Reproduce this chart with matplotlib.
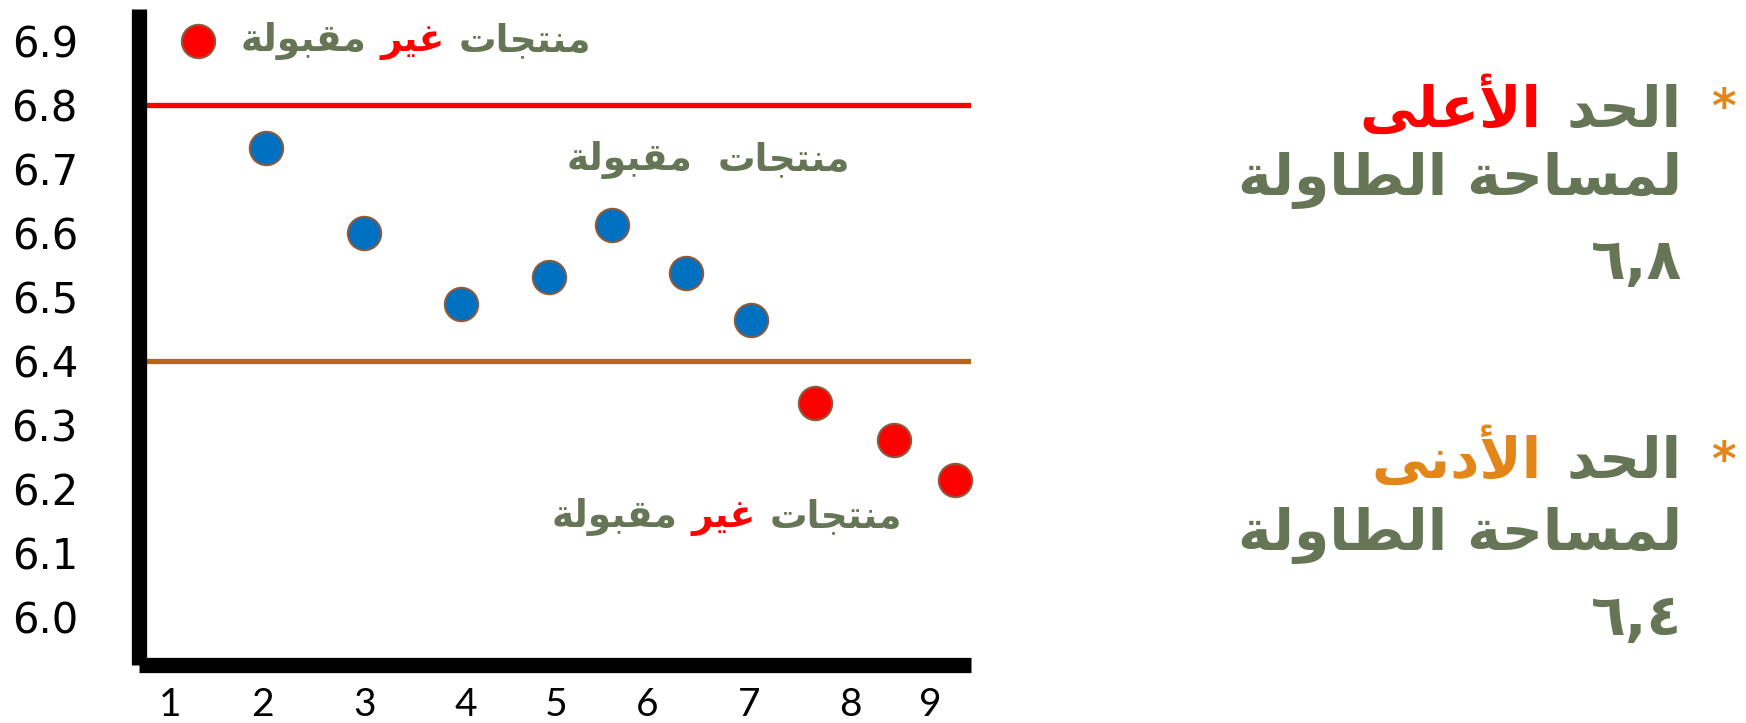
import matplotlib
matplotlib.use('Agg')
import matplotlib.pyplot as plt
from matplotlib.offsetbox import TextArea, HPacker, AnnotationBbox

# measured table areas (sample number -> area)
sample_x = [2.01, 3.04, 4.06, 4.99, 5.65, 6.43, 7.11, 7.79, 8.62, 9.26]
sample_y = [6.733, 6.60, 6.489, 6.531, 6.612, 6.538, 6.464, 6.335, 6.277, 6.214]
upper_limit = 6.8
lower_limit = 6.4

x_tick_pos = [1, 1.97, 3.04, 4.11, 5.06, 6.02, 7.09, 8.16, 9.0]
x_tick_labels = ['1', '2', '3', '4', '5', '6', '7', '8', '9']
y_ticks = [6.0, 6.1, 6.2, 6.3, 6.4, 6.5, 6.6, 6.7, 6.8, 6.9]

GREEN = '#667555'
RED = '#FF0000'
ORANGE = '#E3861A'
BLUE = '#0070C0'

# matplotlib has no arabic shaping, so do it by hand with presentation forms
FORMS = {
    'ا': ('\uFE8D', '\uFE8E', None, None),
    'أ': ('\uFE83', '\uFE84', None, None),
    'ب': ('\uFE8F', '\uFE90', '\uFE91', '\uFE92'),
    'ة': ('\uFE93', '\uFE94', None, None),
    'ت': ('\uFE95', '\uFE96', '\uFE97', '\uFE98'),
    'ج': ('\uFE9D', '\uFE9E', '\uFE9F', '\uFEA0'),
    'ح': ('\uFEA1', '\uFEA2', '\uFEA3', '\uFEA4'),
    'د': ('\uFEA9', '\uFEAA', None, None),
    'ر': ('\uFEAD', '\uFEAE', None, None),
    'س': ('\uFEB1', '\uFEB2', '\uFEB3', '\uFEB4'),
    'ط': ('\uFEC1', '\uFEC2', '\uFEC3', '\uFEC4'),
    'ع': ('\uFEC9', '\uFECA', '\uFECB', '\uFECC'),
    'غ': ('\uFECD', '\uFECE', '\uFECF', '\uFED0'),
    'ق': ('\uFED5', '\uFED6', '\uFED7', '\uFED8'),
    'ل': ('\uFEDD', '\uFEDE', '\uFEDF', '\uFEE0'),
    'م': ('\uFEE1', '\uFEE2', '\uFEE3', '\uFEE4'),
    'ن': ('\uFEE5', '\uFEE6', '\uFEE7', '\uFEE8'),
    'و': ('\uFEED', '\uFEEE', None, None),
    'ى': ('\uFEEF', '\uFEF0', None, None),
    'ي': ('\uFEF1', '\uFEF2', '\uFEF3', '\uFEF4'),
}
LAM_ALEF = {'ا': ('\uFEFB', '\uFEFC'), 'أ': ('\uFEF7', '\uFEF8')}


def shape(s):
    out = []
    prev_join = False
    i = 0
    while i < len(s):
        c = s[i]
        if c not in FORMS:
            out.append(c)
            prev_join = False
            i += 1
            continue
        if c == 'ل' and i + 1 < len(s) and s[i + 1] in LAM_ALEF:
            iso, fin = LAM_ALEF[s[i + 1]]
            out.append(fin if prev_join else iso)
            prev_join = False
            i += 2
            continue
        nxt = s[i + 1] if i + 1 < len(s) else None
        iso, fin, ini, med = FORMS[c]
        next_join = ini is not None and nxt in FORMS
        if prev_join and next_join:
            g = med
        elif prev_join:
            g = fin
        elif next_join:
            g = ini
        else:
            g = iso
        out.append(g)
        prev_join = next_join
        i += 1
    return ''.join(out)[::-1]


def rtl_line(ax, parts, xy, coords, size, align=(1, 0.5), sep=10):
    # parts are given in reading order (right to left)
    boxes = []
    for txt, col in parts[::-1]:
        boxes.append(TextArea(shape(txt), textprops=dict(color=col, fontsize=size,
                                                         fontweight='bold', family='DejaVu Sans')))
    pack = HPacker(children=boxes, align='baseline', pad=0, sep=sep)
    ab = AnnotationBbox(pack, xy, xycoords=coords, box_alignment=align,
                        frameon=False, pad=0, annotation_clip=False)
    ax.add_artist(ab)


fig = plt.figure(figsize=(17.46, 7.23), dpi=100)
ax = fig.add_axes([139 / 1746, 1 - 665 / 723, 832 / 1746, 656 / 723])

ax.axhline(upper_limit, color=RED, lw=3.8, zorder=2)
ax.axhline(lower_limit, color='#B5651D', lw=3.8, zorder=2)

for x, y in zip(sample_x, sample_y):
    c = BLUE if lower_limit <= y <= upper_limit else RED
    ax.plot(x, y, 'o', ms=24, mfc=c, mec='#8C5A3C', mew=1.5, zorder=3, clip_on=False)

ax.set_xlim(0.67, 9.43)
ax.set_ylim(5.925, 6.95)
ax.set_xticks(x_tick_pos)
ax.set_xticklabels(x_tick_labels, fontsize=28, family='Lato')
ax.set_yticks(y_ticks)
ax.set_yticklabels(['%.1f' % v for v in y_ticks], fontsize=30, family='DejaVu Sans')
ax.tick_params(axis='both', length=0)
ax.tick_params(axis='y', pad=44)
ax.tick_params(axis='x', pad=16)

for side in ['top', 'right']:
    ax.spines[side].set_visible(False)
for side in ['left', 'bottom']:
    ax.spines[side].set_linewidth(11)
    ax.spines[side].set_color('black')
    ax.spines[side].set_capstyle('butt')

# legend-ish marker and texts inside the plot
ax.plot(0.071, 0.951, 'o', ms=24, mfc=RED, mec='#8C5A3C', mew=1.5,
        transform=ax.transAxes, clip_on=False)
rtl_line(ax, [('منتجات', GREEN), ('غير', RED), ('مقبولة', GREEN)],
         (0.1226, 0.951), 'axes fraction', 27, align=(0, 0.5))
rtl_line(ax, [('منتجات', GREEN), ('مقبولة', GREEN)],
         (0.684, 0.770), 'axes fraction', 27, align=(0.5, 0.5), sep=18)
rtl_line(ax, [('منتجات', GREEN), ('غير', RED), ('مقبولة', GREEN)],
         (0.707, 0.2256), 'axes fraction', 27, align=(0.5, 0.5))

# limits description on the right
fig.text(0.9868, 0.848, '*', color=ORANGE, fontsize=34, fontweight='bold', ha='center', va='center')
rtl_line(ax, [('الحد', GREEN), ('الأعلى', RED)], (0.9633, 0.8506), 'figure fraction', 41, sep=18)
rtl_line(ax, [('لمساحة الطاولة', GREEN)], (0.9633, 0.7497), 'figure fraction', 41)
fig.text(0.9633, 0.6362, '٦,٨', color=GREEN, fontsize=41, fontweight='bold', ha='right', va='center')

fig.text(0.9868, 0.360, '*', color=ORANGE, fontsize=34, fontweight='bold', ha='center', va='center')
rtl_line(ax, [('الحد', GREEN), ('الأدنى', ORANGE)], (0.9633, 0.3651), 'figure fraction', 41, sep=18)
rtl_line(ax, [('لمساحة الطاولة', GREEN)], (0.9633, 0.26), 'figure fraction', 41)
fig.text(0.9633, 0.1438, '٦,٤', color=GREEN, fontsize=41, fontweight='bold', ha='right', va='center')

fig.savefig('out.png', dpi=100)
